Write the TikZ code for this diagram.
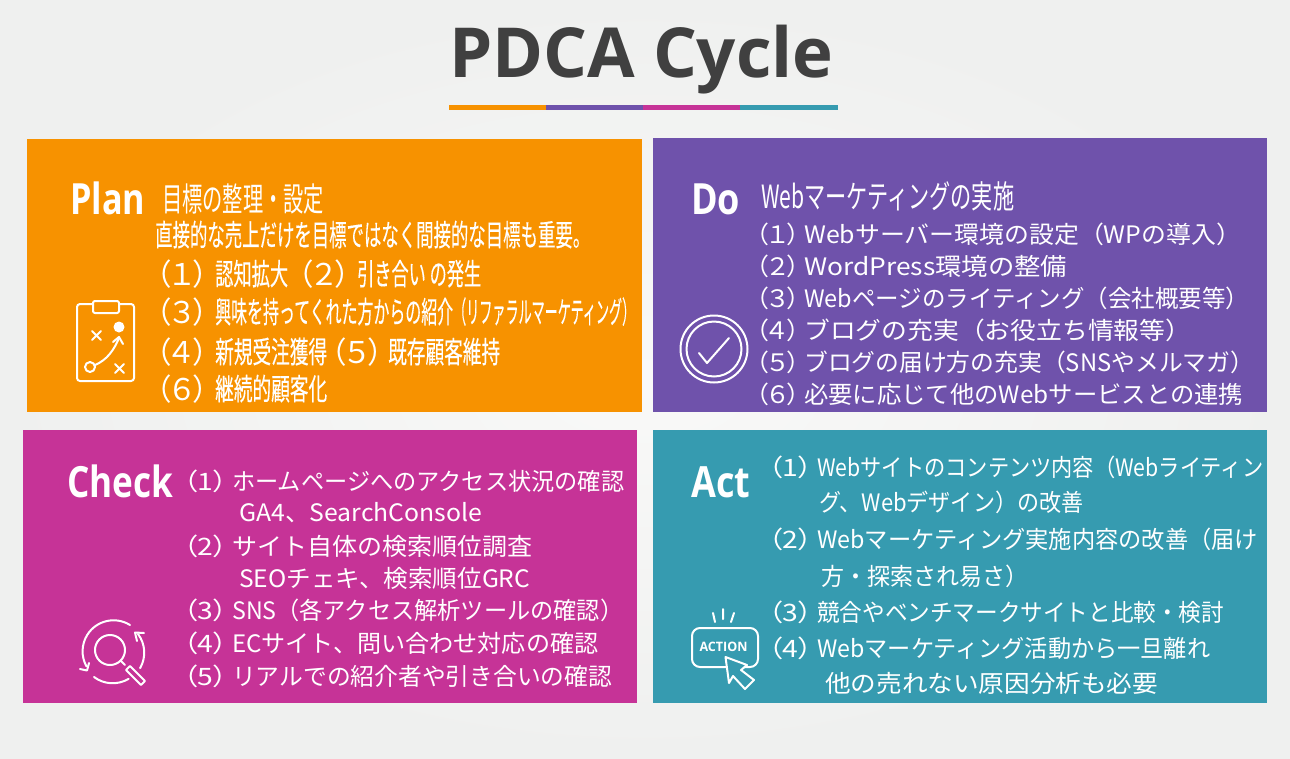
\documentclass[tikz,border=0pt]{standalone}
\usepackage{fontspec}
\usepackage{graphicx}
\setmainfont{Open Sans}
\newfontfamily\cjk{Noto Sans CJK JP}
\newfontfamily\cjkplan[FakeBold=0.3]{Noto Sans CJK JP}
\newfontfamily\cjkhead[RawFeature=+palt]{Noto Sans CJK JP}
\newcommand{\fitw}[2]{\resizebox{#1pt}{\height}{#2}}
% numbered head, then the line itself
\newcommand{\numline}[5]{\makebox[#2pt][l]{\fitw{#1}{\cjkhead（#3）}}\fitw{#4}{#5}}
\newcommand{\stdline}[3]{\numline{44}{48.5}{#1}{#2}{#3}}
\definecolor{planorange}{HTML}{F79200}
\definecolor{doviolet}{HTML}{6F52AB}
\definecolor{checkpink}{HTML}{C63397}
\definecolor{actteal}{HTML}{369BB0}
\definecolor{titlegray}{HTML}{404040}
\definecolor{bginner}{HTML}{F9F9F8}
\definecolor{bgouter}{HTML}{EFF0EF}
\tikzset{
  panel/.style={inner sep=0pt,outer sep=0pt},
  word/.style={anchor=base west,inner sep=0pt,text=white,font=\fontsize{43}{43}\selectfont\bfseries},
  txt/.style={anchor=base west,inner sep=0pt,text=white,font=\cjk\fontsize{24}{24}\selectfont},
  plantxt/.style={txt,font=\cjkplan\fontsize{30}{30}\selectfont},
  icon/.style={draw=white,line width=2pt,line cap=round,line join=round}
}
\begin{document}
\begin{tikzpicture}[x=1pt,y=-1pt]
      \shade[inner color=bginner,outer color=bgouter] (0,0) rectangle (1290,758);

      \node[anchor=base west,inner sep=0pt,text=titlegray,font=\fontsize{69}{69}\selectfont\bfseries] (title) at (449,77) {PDCA Cycle};
      \foreach \xa/\xb/\col in {449/546/planorange,546/643/doviolet,643/740/checkpink,740/838/actteal}
        \fill[\col] (\xa,104.5) rectangle (\xb,109.5);

      \node[panel,fill=planorange,minimum width=615pt,minimum height=273pt] (planbox) at (334.5,275.5) {};
      \node[panel,fill=doviolet,minimum width=614pt,minimum height=274pt] (dobox) at (960,275) {};
      \node[panel,fill=checkpink,minimum width=614pt,minimum height=273pt] (checkbox) at (330,566.5) {};
      \node[panel,fill=actteal,minimum width=614pt,minimum height=273pt] (actbox) at (960,566.5) {};

      % plan
      \node[word] (planword) at (70,214) {\fitw{75}{Plan}};
      \node[txt,font=\cjk\fontsize{33}{33}\selectfont] (plan0) at (162,211) {\fitw{162}{目標の整理・設定}};
      \node[plantxt] (plan1) at (155,246) {\fitw{435}{直接的な売上だけを目標ではなく間接的な目標も重要。}};
      \node[plantxt] (plan2) at (156,285) {\numline{52}{59}{１}{73}{認知拡大}\hspace{10pt}\numline{52}{59}{２}{124}{引き合い の発生}};
      \node[plantxt] (plan3) at (156,323) {\numline{52}{59}{３}{238}{興味を持ってくれた方からの紹介}\fitw{182}{（リファラルマーケティング）}};
      \node[plantxt] (plan4) at (156,363) {\numline{52}{59}{４}{112}{新規受注獲得}\hspace{4pt}\numline{52}{57}{５}{112}{既存顧客維持}};
      \node[plantxt] (plan5) at (156,400) {\numline{52}{59}{６}{112}{継続的顧客化}};

      \draw[icon,rounded corners=3pt] (77,304) rectangle (134,381);
      \draw[icon,fill=planorange,rounded corners=2pt] (93,301) rectangle (119,313);
      \fill[white] (119,327) circle[radius=5.5pt];
      \draw[icon] (92,331) -- (101,340) (101,331) -- (92,340);
      \draw[icon] (115,364) -- (124,373) (124,364) -- (115,373);
      \draw[icon] (90,367) circle[radius=5pt];
      \draw[icon] (95,365) .. controls (107,360) and (114,350) .. (119,338);
      \draw[icon] (113,342) -- (119,337) -- (123,344);

      % do
      \node[word] (doword) at (691,214) {\fitw{49}{Do}};
      \node[txt,font=\cjk\fontsize{32}{32}\selectfont] (do0) at (761,208) {\fitw{253}{Webマーケティングの実施}};
      \node[txt] (do1) at (755.5,243) {\stdline{１}{437}{Webサーバー環境の設定（WPの導入）}};
      \node[txt] (do2) at (755.5,275) {\stdline{２}{263}{WordPress環境の整備}};
      \node[txt] (do3) at (755.5,307) {\stdline{３}{445}{Webページのライティング（会社概要等）}};
      \node[txt] (do4) at (755.5,339) {\stdline{４}{387}{ブログの充実（お役立ち情報等）}};
      \node[txt] (do5) at (755.5,371) {\stdline{５}{450}{ブログの届け方の充実（SNSやメルマガ）}};
      \node[txt] (do6) at (755.5,403) {\stdline{６}{439}{必要に応じて他のWebサービスとの連携}};

      \draw[icon] (714,349) circle[radius=33.5pt];
      \draw[icon] (714,349) circle[radius=27.5pt];
      \draw[icon] (699,353) -- (707,363) -- (729,338);

      % check
      \node[word] (checkword) at (67,497) {\fitw{106}{Check}};
      \node[txt] (check1) at (183.5,490) {\stdline{1}{392}{ホームページへのアクセス状況の確認}};
      \node[txt] (check2) at (239,521) {\fitw{243}{GA4、SearchConsole}};
      \node[txt] (check3) at (183.5,555) {\stdline{2}{300}{サイト自体の検索順位調査}};
      \node[txt] (check4) at (239,587) {\fitw{291}{SEOチェキ、検索順位GRC}};
      \node[txt] (check5) at (183.5,619) {\stdline{3}{391}{SNS（各アクセス解析ツールの確認）}};
      \node[txt] (check6) at (183.5,652) {\stdline{4}{366}{ECサイト、問い合わせ対応の確認}};
      \node[txt] (check7) at (183.5,685) {\stdline{5}{380}{リアルでの紹介者や引き合いの確認}};

      \draw[icon] (110,650) circle[radius=15pt];
      \draw[icon] (121,661) -- (125,665);
      \draw[icon] (126,670) -- (130,666) -- (145,681) -- (141,685) -- cycle;
      \draw[icon] (130,625) arc[start angle=58,end angle=209,radius=31pt];
      \draw[icon] (138,634) arc[start angle=37,end angle=-30,radius=31pt];
      \draw[icon] (94,677) arc[start angle=233,end angle=301,radius=31pt];
      \draw[icon] (144,633) -- (135,632.5) -- (137,641);
      \draw[icon] (80,669) -- (87,670.5) -- (89,663);

      % act
      \node[word] (actword) at (691,497) {\fitw{59}{Act}};
      \node[txt] (act1) at (768.5,476) {\stdline{1}{446}{Webサイトのコンテンツ内容（Webライティン}};
      \node[txt] (act2) at (819,511) {\fitw{264}{グ、Webデザイン）の改善}};
      \node[txt] (act3) at (768.5,548) {\stdline{2}{441}{Webマーケティング実施内容の改善（届け}};
      \node[txt] (act4) at (821,585) {\fitw{207}{方・探索され易さ）}};
      \node[txt] (act5) at (768.5,621) {\stdline{3}{407}{競合やベンチマークサイトと比較・検討}};
      \node[txt] (act6) at (768.5,657) {\stdline{4}{393}{Webマーケティング活動から一旦離れ}};
      \node[txt] (act7) at (825,692) {\fitw{333}{他の売れない原因分析も必要}};

      \draw[icon,rounded corners=8pt] (692,628) rectangle (758,667);
      \node[inner sep=0pt,text=white,font=\fontsize{13}{13}\selectfont\bfseries] (actionword) at (723.5,647) {\fitw{48}{ACTION}};
      \draw[icon] (715,622) -- (713,613) (723,619) -- (723,609) (731,622) -- (734,613);
      \draw[icon,fill=actteal] (725.5,657) -- (747,665) -- (741,670) -- (754,680) -- (745,689) -- (733,676) -- (729,683) -- cycle;
    \end{tikzpicture}
\end{document}
